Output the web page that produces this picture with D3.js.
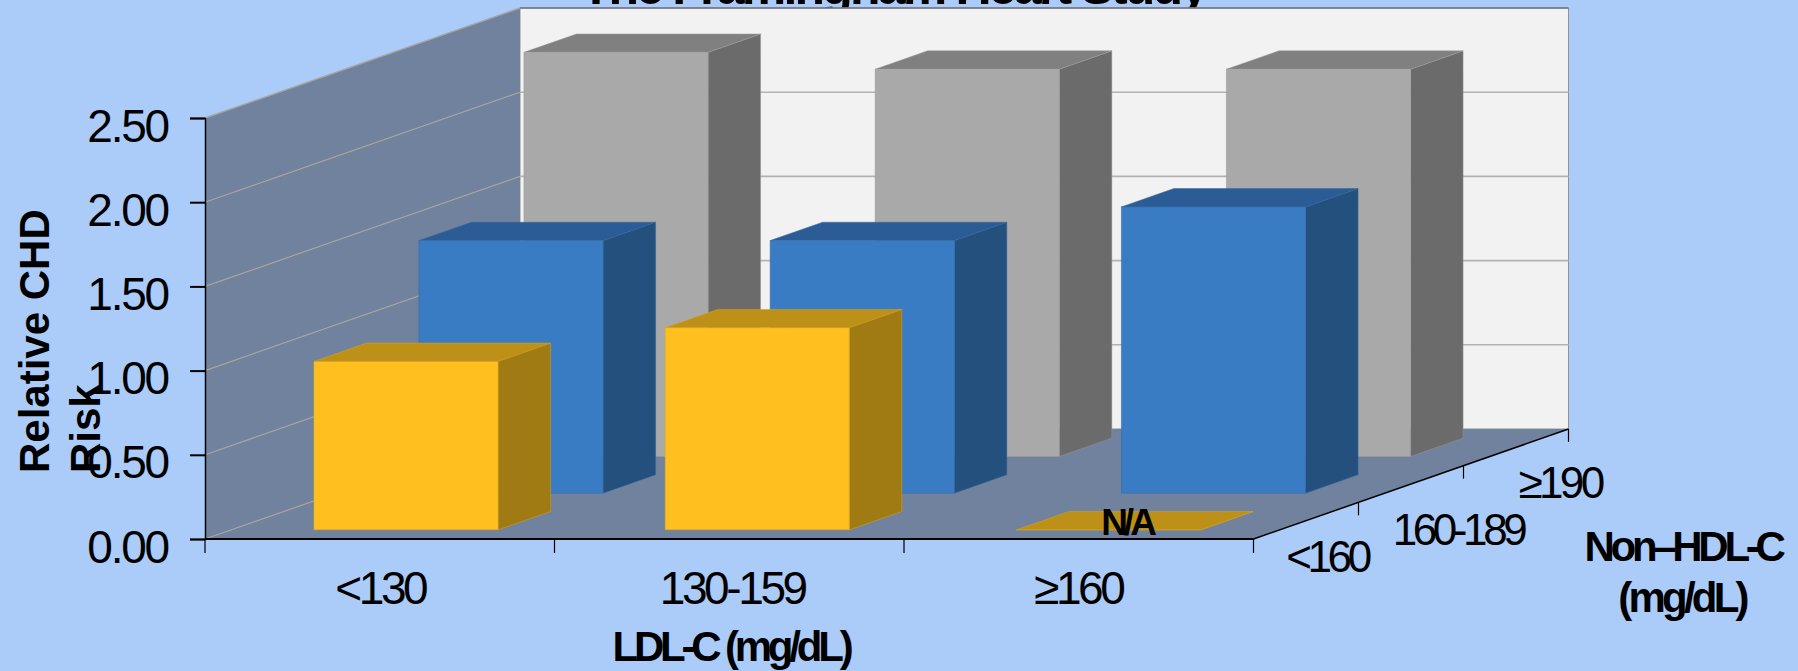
<!DOCTYPE html>
<html>
<head>
<meta charset="utf-8">
<script src="https://cdn.jsdelivr.net/npm/d3@7"></script>
<style>
  html, body { margin: 0; padding: 0; background: #abcbf9; }
  svg { display: block; }
  text { font-family: "Liberation Sans", Arial, sans-serif; fill: #000; }
</style>
</head>
<body>
<script>
// Relative CHD risk by LDL-C and non-HDL-C strata
const ldlLabels = ["<130", "130-159", "≥160"];
const nonHdlLabels = ["<160", "160-189", "≥190"];
const riskLow = [1.0, 1.2, 0];
const riskMid = [1.5, 1.5, 1.7];
const riskHigh = [2.4, 2.3, 2.3];
const riskTicks = [0, 0.5, 1, 1.5, 2, 2.5];

const width = 1798, height = 671;
const svg = d3.select("body").append("svg").attr("width", width).attr("height", height);
svg.append("rect").attr("width", width).attr("height", height).attr("fill", "#abcbf9");

const addText = (str, x, y, attrs, rotate) => {
  const t = svg.append("text").attr("transform", `translate(${x},${y})${rotate ? " rotate(-90)" : ""}`).text(str);
  Object.entries(attrs).forEach(([k, v]) => t.attr(k, v));
  return t;
};

// Chart title sits behind the plot and runs off the top edge of the page
addText("The Framingham Heart Study", 893, 4, { "font-size": 50, "font-weight": "bold", "text-anchor": "middle", "letter-spacing": -2.8 });

// Oblique projection: category and depth shift the point sideways, depth and value lift it
const xScale = d3.scaleLinear().domain([0, 3]).range([205, 1253.5]);
const depthX = d3.scaleLinear().domain([0, 3]).range([0, 315]);
const depthY = d3.scaleLinear().domain([0, 3]).range([0, -110]);
const yScale = d3.scaleLinear().domain([0, 2.5]).range([539, 118]);
const project = (x, v, z) => [xScale(x) + depthX(z), yScale(v) + depthY(z)];
const poly = pts => "M" + pts.map(p => p.join(",")).join("L") + "Z";

// Back wall
svg.append("path")
  .attr("d", poly([project(0, 0, 3), project(0, 2.5, 3), project(3, 2.5, 3), project(3, 0, 3)]))
  .attr("fill", "#f2f2f2").attr("stroke", "#8f949c").attr("stroke-width", 1);
svg.append("path")
  .attr("d", `M${project(0, 2.5, 3)}L${project(3, 2.5, 3)}`)
  .attr("stroke", "#70757d").attr("stroke-width", 1.5);

// Side wall
svg.append("path")
  .attr("d", poly([project(0, 0, 0), project(0, 2.5, 0), project(0, 2.5, 3), project(0, 0, 3)]))
  .attr("fill", "#71829e");
svg.append("path")
  .attr("d", `M${project(0, 2.5, 0)}L${project(0, 2.5, 3)}`)
  .attr("stroke", "#a8a59c").attr("stroke-width", 1.4);

// Floor
svg.append("path")
  .attr("d", poly([project(0, 0, 0), project(3, 0, 0), project(3, 0, 3), project(0, 0, 3)]))
  .attr("fill", "#71829e");

// Gridlines: a thin tan stroke on the side wall, a grey one on the back wall
svg.append("g").selectAll("path").data(riskTicks.slice(1, -1)).join("path")
  .attr("d", v => `M${project(0, v, 3)}L${project(3, v, 3)}`)
  .attr("fill", "none").attr("stroke", "#b2b2b2").attr("stroke-width", 1.6);
svg.append("g").selectAll("path").data(riskTicks.slice(0, -1)).join("path")
  .attr("d", v => `M${project(0, v, 0)}L${project(0, v, 3)}`)
  .attr("fill", "none").attr("stroke", "#a8a59c").attr("stroke-width", 1.2);

// Bars: rows are drawn back to front so nearer ones cover farther ones
const rows = [
  { values: riskHigh, z: 2, face: "#a9a9a9", top: "#808080", side: "#6b6b6b", edge: "#989898" },
  { values: riskMid, z: 1, face: "#3a7cc4", top: "#2b5c96", side: "#24507e", edge: "#34689f" },
  { values: riskLow, z: 0, face: "#ffbf1f", top: "#bd9117", side: "#a07a12", edge: "#d9a31c" }
];
const barStart = d3.scaleLinear().domain([0, 2]).range([0.2365, 2.2465]);
const barWidth = 0.527, barFront = 0.25, barBack = 0.75;

rows.forEach(row => {
  const g = svg.append("g").selectAll("g").data(row.values).join("g");
  const x0 = i => barStart(i), x1 = i => barStart(i) + barWidth;
  const z0 = row.z + barFront, z1 = row.z + barBack;
  g.append("path")
    .attr("d", (v, i) => poly([project(x1(i), 0, z0), project(x1(i), v, z0), project(x1(i), v, z1), project(x1(i), 0, z1)]))
    .attr("fill", row.side).attr("stroke", row.edge).attr("stroke-width", 0.5);
  g.append("path")
    .attr("d", (v, i) => poly([project(x0(i), v, z0), project(x0(i), v, z1), project(x1(i), v, z1), project(x1(i), v, z0)]))
    .attr("fill", row.top).attr("stroke", row.edge).attr("stroke-width", 0.5);
  g.append("path")
    .attr("d", (v, i) => poly([project(x0(i), 0, z0), project(x0(i), v, z0), project(x1(i), v, z0), project(x1(i), 0, z0)]))
    .attr("fill", row.face).attr("stroke", row.edge).attr("stroke-width", 0.5);
});

// Value axis
const axisLeft = d3.axisLeft(yScale).tickValues(riskTicks).tickFormat(d3.format(".2f")).tickSize(15).tickPadding(22);
const yAxis = svg.append("g").attr("transform", `translate(${xScale(0)},0)`).call(axisLeft);
yAxis.select(".domain").attr("stroke", "#000").attr("stroke-width", 1.5);
yAxis.selectAll(".tick line").attr("stroke", "#000").attr("stroke-width", 2);
yAxis.selectAll(".tick text")
  .attr("font-size", 46).attr("letter-spacing", -2.2).style("font-family", '"Liberation Sans", Arial, sans-serif')
  .attr("dy", "0.5em");

// Category axis along the front edge of the floor
svg.append("line")
  .attr("x1", xScale(0)).attr("x2", xScale(3)).attr("y1", yScale(0)).attr("y2", yScale(0))
  .attr("stroke", "#000").attr("stroke-width", 2);
svg.append("g").selectAll("line").data(d3.range(4)).join("line")
  .attr("x1", xScale).attr("x2", xScale)
  .attr("y1", yScale(0)).attr("y2", yScale(0) + 14)
  .attr("stroke", "#000").attr("stroke-width", 1.2);
const ldlNudge = [0.5, 3, -0.5];
svg.append("g").selectAll("text").data(ldlLabels).join("text")
  .attr("x", (d, i) => xScale(i + 0.5) + ldlNudge[i]).attr("y", 604)
  .attr("text-anchor", "middle").attr("font-size", 46).attr("letter-spacing", -3.4)
  .text(d => d);

// Depth axis along the right edge of the floor
svg.append("path").attr("d", `M${project(3, 0, 0)}L${project(3, 0, 3)}`)
  .attr("stroke", "#000").attr("stroke-width", 1.5);
svg.append("g").selectAll("line").data(d3.range(1, 4)).join("line")
  .attr("x1", z => project(3, 0, z)[0]).attr("x2", z => project(3, 0, z)[0])
  .attr("y1", z => project(3, 0, z)[1]).attr("y2", z => project(3, 0, z)[1] + 13)
  .attr("stroke", "#000").attr("stroke-width", 1.2);
const depthLabelPos = [[1327, 572], [1458, 545], [1560, 498]];
const depthLabelSpacing = [-4.4, -4.4, -3.6];
svg.append("g").selectAll("text").data(nonHdlLabels).join("text")
  .attr("x", (d, i) => depthLabelPos[i][0]).attr("y", (d, i) => depthLabelPos[i][1])
  .attr("text-anchor", "middle").attr("font-size", 44).attr("letter-spacing", (d, i) => depthLabelSpacing[i])
  .text(d => d);

// The missing cell is marked on the floor
svg.append("text").attr("x", 1127).attr("y", 535).attr("text-anchor", "middle")
  .attr("font-size", 37).attr("font-weight", "bold").attr("letter-spacing", -4).text("N/A");

// Axis titles
const bold = { "font-size": 42, "font-weight": "bold" };
addText("Relative CHD", 49, 473, bold, true);
addText("Risk", 100, 473, bold, true);
addText("LDL-C (mg/dL)", 731, 661, { ...bold, "text-anchor": "middle", "letter-spacing": -4.2 });
addText("Non–HDL-C", 1683, 561, { ...bold, "text-anchor": "middle", "letter-spacing": -4.3 });
addText("(mg/dL)", 1682, 612, { ...bold, "text-anchor": "middle", "letter-spacing": -3.8 });
</script>
</body>
</html>
